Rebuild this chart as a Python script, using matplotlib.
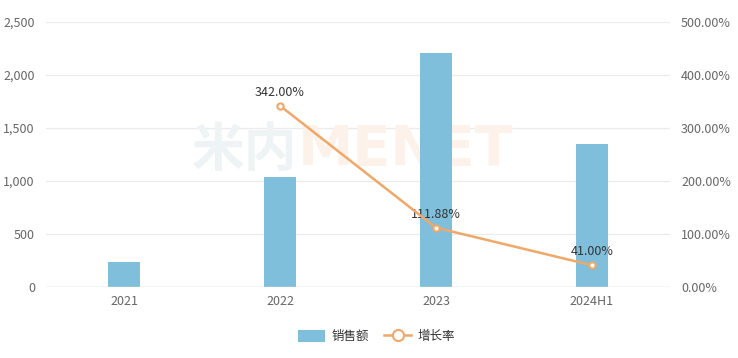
import matplotlib.pyplot as plt
from matplotlib.lines import Line2D
from matplotlib.patches import Patch

plt.rcParams['font.family'] = ['Noto Sans CJK SC', 'DejaVu Sans']

# data
years = ['2021', '2022', '2023', '2024H1']
sales = [236, 1038, 2208, 1349]
growth_years = ['2022', '2023', '2024H1']
growth = [342.00, 111.88, 41.00]

bar_color = '#7fbfdc'
line_color = '#f0a869'
text_color = '#666666'

fig = plt.figure(figsize=(7.38, 3.58), dpi=100)
ax = fig.add_axes([46 / 738, 71 / 358, 624 / 738, 265 / 358])
ax2 = ax.twinx()

x = list(range(len(years)))
ax.bar(x, sales, width=0.205, color=bar_color, zorder=3)
ax.set_xlim(-0.5, len(years) - 0.5)
ax.set_ylim(0, 2500)
ax.set_yticks([0, 500, 1000, 1500, 2000, 2500])
ax.set_yticklabels([f'{v:,}' for v in [0, 500, 1000, 1500, 2000, 2500]])
ax.set_xticks(x)
ax.set_xticklabels(years)
ax.grid(axis='y', color='#ebebeb', linewidth=0.9, zorder=0)
ax.set_axisbelow(True)

# watermark, behind the bars
ax.text(0.403, 0.58, '米内', transform=fig.transFigure, fontsize=38, fontweight='bold',
        color='#eef4f6', ha='right', va='center', zorder=1)
ax.text(0.403, 0.58, 'MENET', transform=fig.transFigure, fontsize=40, fontweight='bold',
        family='DejaVu Sans', color='#fdf2e9', ha='left', va='center', zorder=1)

gx = [years.index(y) for y in growth_years]
ax2.plot(gx, growth, color=line_color, linewidth=1.8, marker='o', markersize=4.5,
         markerfacecolor='white', markeredgecolor=line_color, markeredgewidth=1.5, zorder=5)
for xi, g in zip(gx, growth):
    ax2.annotate(f'{g:.2f}%', (xi, g), xytext=(0, 5), textcoords='offset points',
                 ha='center', va='bottom', fontsize=9, color='#333333')
ax2.set_ylim(0, 500)
ax2.set_yticks([0, 100, 200, 300, 400, 500])
ax2.set_yticklabels([f'{v:.2f}%' for v in [0, 100, 200, 300, 400, 500]])

for a in (ax, ax2):
    for s in a.spines.values():
        s.set_visible(False)
    a.tick_params(length=0, labelsize=9, labelcolor=text_color)
ax.tick_params(axis='x', pad=6)
ax.tick_params(axis='y', pad=8)
ax2.tick_params(axis='y', pad=8)
ax.axhline(0, color='#dddddd', linewidth=1, zorder=4)

handles = [Patch(facecolor=bar_color, edgecolor='none'),
           Line2D([0], [0], color=line_color, linewidth=1.8, marker='o', markersize=8,
                  markerfacecolor='white', markeredgecolor=line_color, markeredgewidth=1.5)]
fig.legend(handles, ['销售额', '增长率'], loc='center', bbox_to_anchor=(0.51, 0.06),
           ncol=2, frameon=False, fontsize=9, labelcolor='#333333',
           handlelength=2.2, handleheight=1.1, columnspacing=1.2, handletextpad=0.5)

fig.savefig('out.png', dpi=100)
